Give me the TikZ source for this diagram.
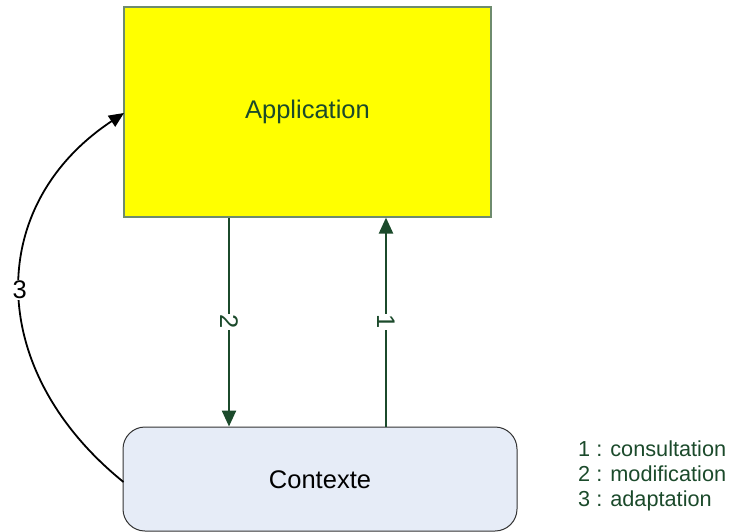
\documentclass[tikz,border=0pt]{standalone}
\usepackage{fontspec}
\setmainfont{Liberation Sans}
\usetikzlibrary{arrows.meta}
\definecolor{dkgreen}{HTML}{1B4A2B}
\definecolor{appborder}{HTML}{6E8B6E}
\definecolor{ctxfill}{HTML}{E6ECF7}
\definecolor{appfill}{HTML}{FFFF00}
\tikzset{
  appbox/.style={draw=appborder, fill=appfill, line width=1.2pt, minimum width=367pt, minimum height=210pt, inner sep=0pt, font=\fontsize{25.5}{30}\selectfont, text=dkgreen},
  ctxbox/.style={draw=black!80, fill=ctxfill, line width=1pt, rounded corners=22pt, minimum width=394pt, minimum height=104pt, inner sep=0pt, font=\fontsize{25.5}{30}\selectfont},
  garrow/.style={draw=dkgreen, line width=2.4pt, -{Triangle[length=16pt,width=14pt]}},
  barrow/.style={draw=black, line width=1.8pt, -{Triangle[length=15pt,width=13pt]}},
  lbl/.style={fill=white, inner sep=1pt, font=\fontsize{25.5}{30}\selectfont},
  legend/.style={font=\fontsize{21.7}{25}\selectfont, text=dkgreen, align=left, anchor=north west, inner sep=0pt}
}
\begin{document}
\begin{tikzpicture}[x=1pt, y=-1pt]
\useasboundingbox (0,0) rectangle (729,531);
\clip (0,0) rectangle (729,531);
\node[appbox] (app) at (307.5,112) {Application};
\node[ctxbox] (ctx) at (320,479) {};
\node[font=\fontsize{25.5}{30}\selectfont] (ctxt) at (320,480) {Contexte};
\coordinate (a2) at (229,0);
\coordinate (a1) at (386,0);
\draw[garrow] (app.south -| a2) -- node[lbl, text=dkgreen, rotate=-90] (l2) {2} (ctx.north -| a2);
\draw[garrow] (ctx.north -| a1) -- node[lbl, text=dkgreen, rotate=-90] (l1) {1} (app.south -| a1);
\coordinate (c3s) at (123.5,482);
\coordinate (c3e) at (124,113);
\draw[barrow] (c3s) .. controls (-15,370) and (-15,205) .. node[lbl, pos=0.5] (l3) {3} (c3e);
\node[legend] (leg) at (578,441) {1 : consultation\\2 : modification\\3 : adaptation};
\end{tikzpicture}
\end{document}
